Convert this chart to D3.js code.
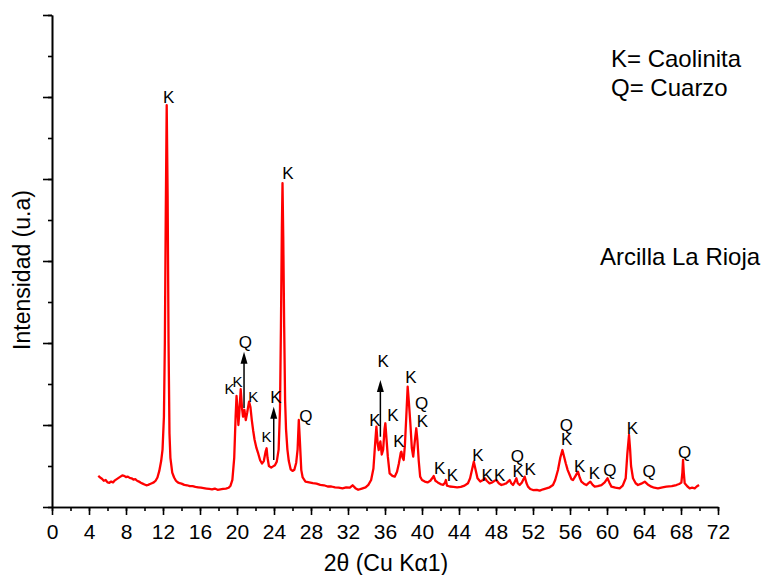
<!DOCTYPE html>
<html>
<head>
<meta charset="utf-8">
<script src="https://cdn.jsdelivr.net/npm/d3@7"></script>
<style>
  body { margin: 0; background: #fff; }
  text { font-family: Arial, "Liberation Sans", sans-serif; fill: #000; }
</style>
</head>
<body>
<script>
// Difractograma - Arcilla La Rioja

// 2theta (grados) e intensidad
const twoTheta = [
  5.0, 5.2, 5.4, 5.6, 5.8, 6.0, 6.2, 6.4, 6.6, 6.8, 7.0, 7.2, 7.4, 7.6, 7.8, 8.0, 8.2, 8.4, 8.6, 8.8,
  9.0, 9.2, 9.4, 9.6, 9.8, 10.0, 10.2, 10.4, 10.6, 10.8, 11.0, 11.2, 11.4, 11.6, 11.8, 11.95, 12.1, 12.2, 12.3, 12.4,
  12.5, 12.6, 12.7, 12.8, 13.0, 13.2, 13.4, 13.6, 13.8, 14.0, 14.3, 14.6, 14.9, 15.2, 15.5, 15.8, 16.1, 16.4, 16.7, 17.0,
  17.3, 17.6, 17.9, 18.2, 18.5, 18.8, 19.1, 19.3, 19.5, 19.7, 19.85, 19.95, 20.05, 20.15, 20.25, 20.4, 20.55, 20.65, 20.8, 20.95,
  21.1, 21.3, 21.45, 21.6, 21.75, 21.9, 22.1, 22.3, 22.5, 22.7, 22.9, 23.1, 23.2, 23.3, 23.45, 23.7, 23.9, 24.1, 24.3, 24.5,
  24.65, 24.75, 24.85, 24.92, 25.0, 25.1, 25.2, 25.3, 25.45, 25.6, 25.8, 26.0, 26.2, 26.4, 26.55, 26.68, 26.8, 26.95, 27.1, 27.4,
  27.8, 28.2, 28.6, 29.0, 29.4, 29.8, 30.2, 30.6, 31.0, 31.4, 31.8, 32.2, 32.5, 32.8, 33.1, 33.5, 33.9, 34.2, 34.5, 34.75,
  34.95, 35.07, 35.2, 35.32, 35.5, 35.65, 35.8, 35.95, 36.04, 36.15, 36.3, 36.5, 36.8, 37.05, 37.3, 37.5, 37.7, 37.77, 37.9, 38.02,
  38.15, 38.3, 38.45, 38.6, 38.74, 38.9, 39.05, 39.2, 39.38, 39.5, 39.65, 39.8, 40.0, 40.3, 40.6, 40.9, 41.1, 41.26, 41.45, 41.7,
  42.0, 42.3, 42.5, 42.58, 42.7, 43.0, 43.4, 43.8, 44.2, 44.6, 44.97, 45.2, 45.4, 45.6, 45.8, 46.0, 46.3, 46.6, 46.8, 47.0,
  47.3, 47.6, 47.85, 48.04, 48.3, 48.58, 48.9, 49.12, 49.3, 49.48, 49.65, 49.84, 50.0, 50.2, 50.35, 50.56, 50.8, 51.1, 51.3, 51.46,
  51.7, 52.0, 52.4, 52.72, 53.1, 53.45, 53.8, 54.16, 54.4, 54.7, 54.95, 55.18, 55.35, 55.54, 55.75, 55.97, 56.15, 56.33, 56.6, 56.86,
  57.05, 57.23, 57.5, 57.77, 58.0, 58.2, 58.45, 58.67, 59.0, 59.4, 59.75, 60.05, 60.25, 60.48, 60.9, 61.37, 61.7, 62.02, 62.2, 62.38,
  62.5, 62.6, 62.81, 63.1, 63.35, 63.7, 64.08, 64.4, 64.8, 65.1, 65.51, 66.0, 66.42, 67.0, 67.5, 67.8, 68.04, 68.15, 68.22, 68.3,
  68.4, 68.7, 68.94, 69.2, 69.48, 69.7, 69.95
];
const intensity = [
  380, 360, 345, 320, 330, 300, 295, 310, 300, 325, 340, 355, 370, 385, 380, 365, 370, 355, 350, 335,
  340, 320, 310, 295, 285, 275, 265, 270, 280, 290, 300, 320, 360, 440, 560, 700, 1100, 2000, 3600, 4900,
  3800, 2000, 900, 600, 420, 360, 320, 300, 290, 285, 270, 265, 255, 255, 245, 240, 235, 230, 225, 220,
  215, 225, 210, 215, 220, 225, 235, 260, 330, 600, 1100, 1354, 1200, 1000, 1150, 1436, 1200, 1101, 1183, 1061,
  1150, 1285, 1220, 1060, 930, 820, 720, 650, 570, 530, 560, 680, 716, 600, 500, 480, 495, 510, 553, 700,
  1200, 2200, 3400, 3950, 3300, 2200, 1300, 950, 700, 560, 460, 440, 455, 540, 700, 1061, 800, 450, 360, 310,
  300, 290, 285, 270, 265, 250, 250, 240, 235, 228, 240, 235, 265, 230, 210, 225, 240, 270, 330, 470,
  800, 980, 780, 695, 800, 640, 700, 950, 1021, 850, 620, 411, 380, 370, 430, 530, 660, 675, 600, 573,
  750, 1100, 1467, 1250, 1021, 720, 614, 780, 960, 820, 560, 370, 330, 310, 300, 320, 350, 378, 320, 300,
  280, 270, 300, 329, 260, 250, 245, 240, 245, 260, 289, 350, 450, 553, 450, 350, 310, 330, 350, 320,
  289, 300, 320, 329, 290, 268, 280, 289, 310, 329, 290, 268, 300, 350, 290, 268, 300, 370, 290, 248,
  220, 207, 210, 199, 216, 228, 240, 268, 330, 451, 600, 695, 620, 533, 450, 390, 340, 329, 380, 431,
  360, 309, 285, 268, 290, 309, 270, 248, 255, 268, 300, 350, 300, 248, 235, 228, 260, 350, 650, 878,
  700, 500, 350, 290, 268, 285, 309, 275, 248, 235, 228, 240, 248, 255, 268, 280, 297, 420, 573, 420,
  289, 250, 228, 235, 228, 250, 268
];

// Etiquetas de fases (K = caolinita, Q = cuarzo)
const labelText = ["K", "K", "Q", "K", "K", "K", "K", "K", "Q", "K", "K", "K", "K", "Q", "K", "K",
                   "K", "K", "K", "K", "K", "Q", "K", "K", "Q", "K", "K", "K", "Q", "K", "Q", "Q"];
const labelTheta = [12.6, 25.5, 20.9, 19.2, 20.05, 21.75, 23.2, 24.2, 27.45, 34.9, 36.85, 37.5, 38.8, 39.95, 40.05, 35.8,
                    41.9, 43.3, 46.05, 47.05, 48.4, 50.3, 50.4, 51.7, 55.6, 55.65, 57.05, 58.65, 60.3, 62.75, 64.55, 68.4];
const labelInt = [4990, 4070, 2010, 1450, 1530, 1345, 860, 1330, 1100, 1050, 1120, 800, 1580, 1265, 1040, 1770,
                  470, 390, 630, 390, 380, 610, 430, 460, 1000, 820, 500, 410, 440, 960, 430, 670];
const labelSmall = [3, 4, 5, 6];

// Flechas (2theta, intensidad inicio, intensidad punta)
const arrowTheta = [20.76, 23.97, 35.5];
const arrowFrom = [1207, 573, 857];
const arrowTo = [1894, 1223, 1549];

const xTicks = d3.range(0, 73, 4);
const xMinor = d3.range(0, 73, 2);
const yMajor = d3.range(0, 6001, 1000);
const yMinor = d3.range(0, 6001, 500);

const legendLines = ["K= Caolinita", "Q= Cuarzo"];
const sampleName = "Arcilla La Rioja";

const width = 764, height = 575;
const margin = { top: 15, right: 46, bottom: 68, left: 52 };

const svg = d3.select("body").append("svg")
    .attr("width", width)
    .attr("height", height);

const x = d3.scaleLinear().domain([0, 72]).range([margin.left, width - margin.right]);
const y = d3.scaleLinear().domain([0, 6000]).range([height - margin.bottom, margin.top]);

const data = twoTheta.map((t, i) => ({ t: t, v: intensity[i] }));

// Ejes
svg.append("g")
    .attr("transform", "translate(0," + y(0) + ")")
    .call(d3.axisBottom(x).tickValues(xMinor).tickSize(4).tickFormat("").tickSizeOuter(0));

const xAxis = svg.append("g")
    .attr("transform", "translate(0," + y(0) + ")")
    .call(d3.axisBottom(x).tickValues(xTicks).tickSize(8).tickPadding(9).tickSizeOuter(0));
xAxis.selectAll("text").attr("font-size", "21px").attr("font-family", "Arial, 'Liberation Sans', sans-serif");

svg.append("g")
    .attr("transform", "translate(" + x(0) + ",0)")
    .call(d3.axisLeft(y).tickValues(yMinor).tickSize(4).tickFormat("").tickSizeOuter(0));

svg.append("g")
    .attr("transform", "translate(" + x(0) + ",0)")
    .call(d3.axisLeft(y).tickValues(yMajor).tickSize(9).tickFormat("").tickSizeOuter(0));

svg.selectAll(".domain, .tick line").attr("stroke", "#000").attr("stroke-width", 1.6);

// Curva
svg.append("path")
    .datum(data)
    .attr("fill", "none")
    .attr("stroke", "#ff0000")
    .attr("stroke-width", 2.3)
    .attr("stroke-linejoin", "round")
    .attr("d", d3.line().x(d => x(d.t)).y(d => y(d.v)));

// Flechas
arrowTheta.forEach((t, i) => {
    svg.append("line")
        .attr("x1", x(t)).attr("x2", x(t))
        .attr("y1", y(arrowFrom[i])).attr("y2", y(arrowTo[i]) + 11)
        .attr("stroke", "#000")
        .attr("stroke-width", 1.5);
    svg.append("path")
        .attr("d", "M" + (x(t) - 3.5) + "," + (y(arrowTo[i]) + 12) + " L" + x(t) + "," + y(arrowTo[i]) +
                   " L" + (x(t) + 3.5) + "," + (y(arrowTo[i]) + 12) + " Z")
        .attr("fill", "#000");
});

// Etiquetas de picos
svg.selectAll(".peak")
    .data(labelText)
    .enter().append("text")
    .attr("class", "peak")
    .attr("x", (d, i) => x(labelTheta[i]))
    .attr("y", (d, i) => y(labelInt[i]))
    .attr("text-anchor", "middle")
    .attr("dominant-baseline", "central")
    .attr("font-size", (d, i) => labelSmall.includes(i) ? "15px" : "17px")
    .text(d => d);

// Leyenda
svg.selectAll(".legend")
    .data(legendLines)
    .enter().append("text")
    .attr("class", "legend")
    .attr("x", 611)
    .attr("y", (d, i) => 58 + i * 29)
    .attr("dominant-baseline", "central")
    .attr("font-size", "24px")
    .text(d => d);

svg.append("text")
    .attr("x", 600)
    .attr("y", 256)
    .attr("dominant-baseline", "central")
    .attr("font-size", "24px")
    .text(sampleName);

// Titulos de ejes
svg.append("text")
    .attr("x", (x(0) + x(72)) / 2 + 1)
    .attr("y", 571)
    .attr("text-anchor", "middle")
    .attr("font-size", "23px")
    .text("2\u03b8 (Cu K\u03b11)");

svg.append("text")
    .attr("transform", "translate(30," + 270 + ") rotate(-90)")
    .attr("text-anchor", "middle")
    .attr("font-size", "23px")
    .text("Intensidad (u.a)");
</script>
</body>
</html>
